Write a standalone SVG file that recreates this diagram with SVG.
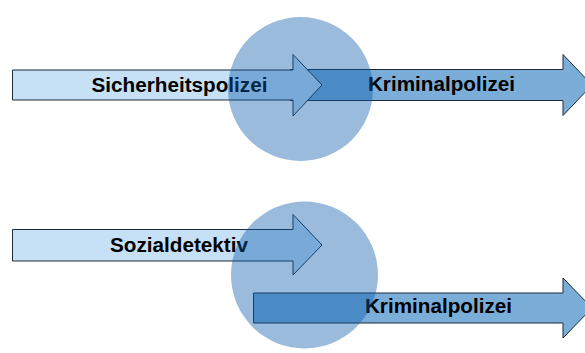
<svg xmlns="http://www.w3.org/2000/svg" width="585" height="353" viewBox="0 0 585 353">
<style>
.light{fill:#c6e1f6;stroke:#1e2a36;stroke-width:1}
.mid{fill:#7aaed8;stroke:#1e2a36;stroke-width:1}
.lbl{font-family:"Liberation Sans",Arial,sans-serif;font-weight:bold;font-size:20.7px;fill:#000;text-anchor:middle}
.circ{fill:#0a5aaa;fill-opacity:0.41}
</style>
<rect width="585" height="353" fill="#fff"/>
<g id="kriminalpolizei-top">
<path class="mid" d="M290,69.5 H563 V54.5 L592,85 L563,115.5 V100.5 H290 Z"/>
<text class="lbl" x="441.5" y="91">Kriminalpolizei</text>
</g>
<g id="sicherheitspolizei">
<path class="light" d="M12.5,70 H293 V54.5 L322,85 L293,116 V100 H12.5 Z"/>
<text class="lbl" x="179.5" y="92">Sicherheitspolizei</text>
</g>
<g id="sozialdetektiv">
<path class="light" d="M12.5,229.5 H293 V214.5 L322,245 L293,275 V261 H12.5 Z"/>
<text class="lbl" x="179" y="252">Sozialdetektiv</text>
</g>
<g id="kriminalpolizei-bottom">
<path class="mid" d="M253.5,293 H563 V278 L592,308 L563,338 V323 H253.5 Z"/>
<text class="lbl" x="438.5" y="313">Kriminalpolizei</text>
</g>
<g id="overlap-top">
<ellipse class="circ" cx="300.5" cy="89" rx="72.5" ry="72"/>
</g>
<g id="overlap-bottom">
<ellipse class="circ" cx="304.5" cy="275" rx="73.5" ry="73.5"/>
</g>
</svg>
